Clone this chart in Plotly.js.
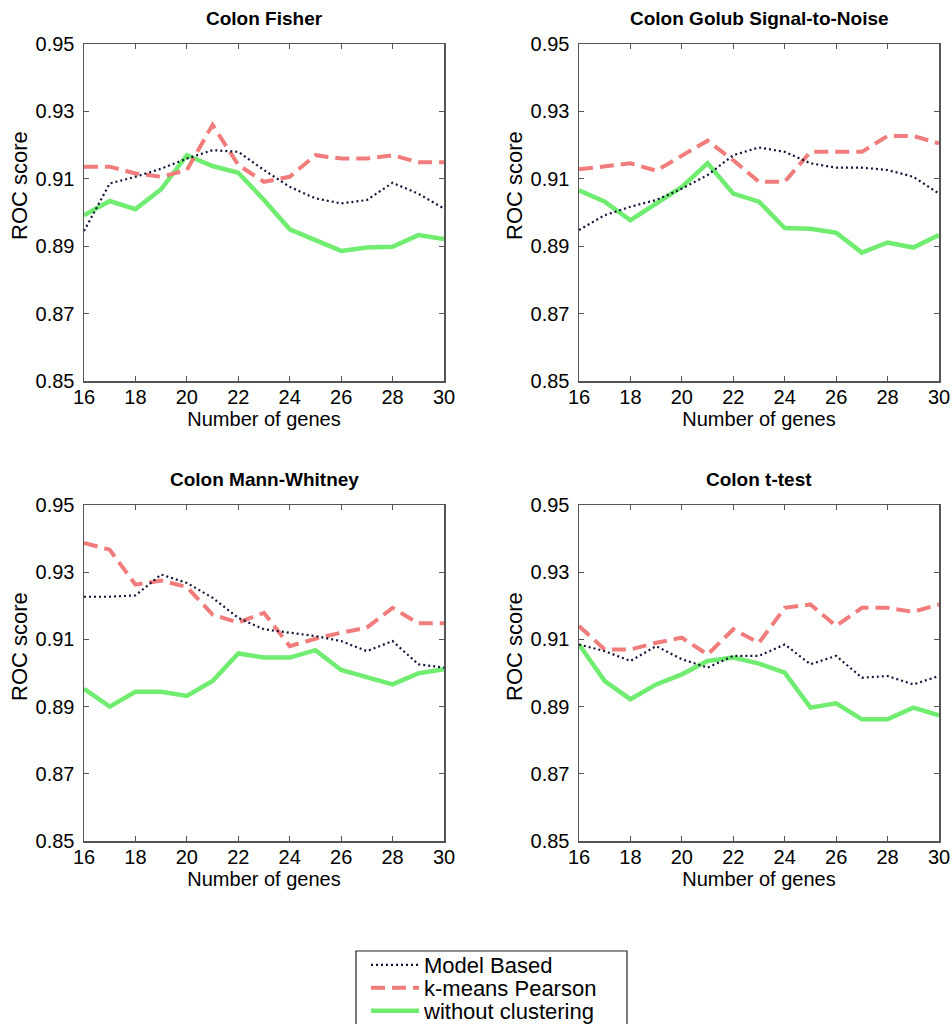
<!DOCTYPE html>
<html>
<head>
<meta charset="utf-8">
<script src="https://cdn.plot.ly/plotly-3.0.1.min.js"></script>
<style>html,body{margin:0;padding:0;background:#fff;}#chart{width:952px;height:1024px;}</style>
</head>
<body>
<div id="chart"></div>
<script>
const genes = [16, 17, 18, 19, 20, 21, 22, 23, 24, 25, 26, 27, 28, 29, 30];
const seriesNames = ["Model Based", "k-means Pearson", "without clustering"];
const panelTitles = ["Colon Fisher", "Colon Golub Signal-to-Noise", "Colon Mann-Whitney", "Colon t-test"];
const yTickVals = [0.85, 0.87, 0.89, 0.91, 0.93, 0.95];
const yTickText = ["0.85", "0.87", "0.89", "0.91", "0.93", "0.95"];
const xTickVals = [16, 18, 20, 22, 24, 26, 28, 30];

const fisherModel  = [0.8945, 0.9086, 0.9106, 0.9130, 0.9160, 0.9185, 0.9180, 0.9126, 0.9076, 0.9042, 0.9027, 0.9037, 0.9088, 0.9056, 0.9012];
const fisherKmeans = [0.9136, 0.9136, 0.9116, 0.9106, 0.9126, 0.9260, 0.9141, 0.9091, 0.9106, 0.9170, 0.9160, 0.9160, 0.9170, 0.9149, 0.9149];
const fisherNone   = [0.8992, 0.9034, 0.9010, 0.9069, 0.9170, 0.9138, 0.9118, 0.9037, 0.8950, 0.8918, 0.8886, 0.8896, 0.8898, 0.8933, 0.8921];

const golubModel  = [0.8948, 0.8992, 0.9017, 0.9037, 0.9071, 0.9111, 0.9170, 0.9193, 0.9180, 0.9146, 0.9133, 0.9133, 0.9126, 0.9106, 0.9056];
const golubKmeans = [0.9128, 0.9138, 0.9146, 0.9124, 0.9167, 0.9213, 0.9155, 0.9091, 0.9091, 0.9180, 0.9180, 0.9180, 0.9227, 0.9227, 0.9205];
const golubNone   = [0.9066, 0.9032, 0.8977, 0.9027, 0.9076, 0.9146, 0.9056, 0.9032, 0.8954, 0.8952, 0.8940, 0.8881, 0.8911, 0.8896, 0.8933];

const mannModel  = [0.9227, 0.9227, 0.9231, 0.9293, 0.9268, 0.9224, 0.9164, 0.9130, 0.9120, 0.9110, 0.9095, 0.9065, 0.9095, 0.9026, 0.9016];
const mannKmeans = [0.9387, 0.9367, 0.9263, 0.9275, 0.9256, 0.9174, 0.9150, 0.9179, 0.9080, 0.9102, 0.9120, 0.9135, 0.9194, 0.9148, 0.9148];
const mannNone   = [0.8953, 0.8900, 0.8944, 0.8944, 0.8932, 0.8976, 0.9058, 0.9046, 0.9046, 0.9068, 0.9009, 0.8989, 0.8966, 0.8999, 0.9011];

const ttestModel  = [0.9085, 0.9065, 0.9036, 0.9080, 0.9041, 0.9016, 0.9051, 0.9051, 0.9085, 0.9026, 0.9051, 0.8986, 0.8991, 0.8966, 0.8991];
const ttestKmeans = [0.9140, 0.9070, 0.9070, 0.9090, 0.9105, 0.9055, 0.9130, 0.9090, 0.9194, 0.9204, 0.9140, 0.9194, 0.9194, 0.9182, 0.9204];
const ttestNone   = [0.9085, 0.8976, 0.8922, 0.8966, 0.8996, 0.9036, 0.9046, 0.9028, 0.9001, 0.8897, 0.8910, 0.8862, 0.8862, 0.8897, 0.8874];

const panels = [
  [fisherModel, fisherKmeans, fisherNone],
  [golubModel, golubKmeans, golubNone],
  [mannModel, mannKmeans, mannNone],
  [ttestModel, ttestKmeans, ttestNone]
];

const W = 952, H = 1024;
const px = v => v / W;
const py = v => 1 - v / H;
const xDomains = [[px(84), px(444)], [px(579), px(939)]];
const yDomains = [[py(381), py(44)], [py(841), py(505)]];

const lineStyles = [
  {color: "#14143a", width: 2.2, dash: "2px,3px"},
  {color: "#f07c7c", width: 4, dash: "14px,7px"},
  {color: "#70ec70", width: 4.5, dash: "solid"}
];
const legendIds = ["legend", "legend2", "legend3"];
const legendRowY = [965, 988, 1011];

const FONT = "Liberation Sans, Arial, sans-serif";
const traces = [];
panels.forEach((p, i) => {
  const suffix = i === 0 ? "" : String(i + 1);
  [2, 1, 0].forEach(s => {
    traces.push({
      x: genes, y: p[s], type: "scatter", mode: "lines",
      name: seriesNames[s], legend: legendIds[s],
      line: lineStyles[s],
      xaxis: "x" + suffix, yaxis: "y" + suffix,
      showlegend: i === 0, hoverinfo: "skip"
    });
  });
});

const layout = {
  width: W, height: H,
  margin: {l: 0, r: 0, t: 0, b: 0, pad: 0, autoexpand: false},
  paper_bgcolor: "#fff", plot_bgcolor: "#fff",
  font: {family: FONT, color: "#000"},
  showlegend: true,
  annotations: [],
  shapes: [{
    type: "rect", xref: "paper", yref: "paper",
    x0: px(356), x1: px(627), y0: py(1030), y1: py(951),
    line: {color: "#222", width: 1.2}, fillcolor: "rgba(0,0,0,0)"
  }]
};
legendIds.forEach((id, k) => {
  layout[id] = {
    x: px(366), y: py(legendRowY[k]), xanchor: "left", yanchor: "middle",
    bgcolor: "rgba(0,0,0,0)", borderwidth: 0,
    font: {family: FONT, size: 22, color: "#000"},
    itemwidth: 48
  };
});

for (let i = 0; i < 4; i++) {
  const col = i % 2, row = Math.floor(i / 2);
  const suffix = i === 0 ? "" : String(i + 1);
  layout["xaxis" + suffix] = {
    domain: xDomains[col], anchor: "y" + suffix,
    range: [16, 30], tickvals: xTickVals, ticks: "inside", ticklen: 5,
    showline: true, mirror: "ticks", linecolor: "#555", linewidth: 1.5, tickcolor: "#555",
    showgrid: false, zeroline: false, automargin: false,
    tickfont: {family: FONT, size: 20, color: "#000"},
    ticklabelstandoff: -3,
    title: {text: "Number of genes", font: {family: FONT, size: 20, color: "#000"}, standoff: 0}
  };
  layout["yaxis" + suffix] = {
    domain: yDomains[row], anchor: "x" + suffix,
    range: [0.85, 0.95], tickvals: yTickVals, ticktext: yTickText, ticks: "inside", ticklen: 5,
    showline: true, mirror: "ticks", linecolor: "#555", linewidth: 1.5, tickcolor: "#555",
    showgrid: false, zeroline: false, automargin: false,
    tickfont: {family: FONT, size: 20, color: "#000"},
    ticklabelstandoff: 4
  };
  const cx = (xDomains[col][0] + xDomains[col][1]) / 2;
  layout.annotations.push({
    text: "<b>" + panelTitles[i] + "</b>", xref: "paper", yref: "paper",
    x: cx, y: py(row === 0 ? 18 : 479), xanchor: "center", yanchor: "middle",
    showarrow: false, font: {family: FONT, size: 19, color: "#000"}
  });
  layout.annotations.push({
    text: "ROC score", xref: "paper", yref: "paper",
    x: px(col === 0 ? 19 : 514), y: py(row === 0 ? 186 : 647),
    xanchor: "center", yanchor: "middle", textangle: -90,
    showarrow: false, font: {family: FONT, size: 22, color: "#000"}
  });
}

Plotly.newPlot("chart", traces, layout, {staticPlot: true, displayModeBar: false});
</script>
</body>
</html>
